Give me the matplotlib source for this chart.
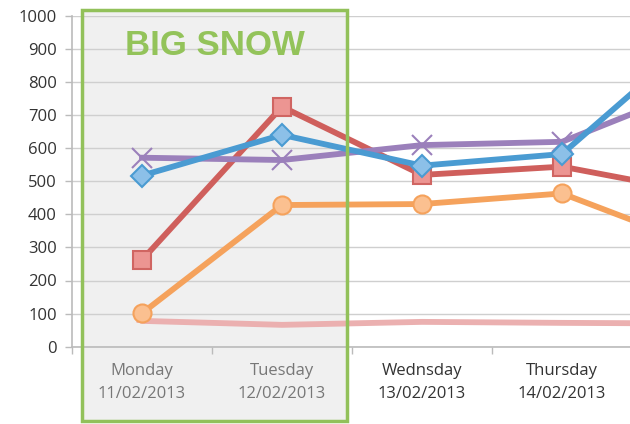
import matplotlib
matplotlib.use("Agg")
import matplotlib.pyplot as plt
from matplotlib.patches import Rectangle

# Four labelled days visible; a fifth (off-image) day continues the lines to the right edge
categories = ["Monday\n11/02/2013", "Tuesday\n12/02/2013", "Wednsday\n13/02/2013",
              "Thursday\n14/02/2013"]
blue_vals = [517, 640, 547, 582, 950]
red_vals = [262, 725, 519, 544, 464]
purple_vals = [571, 564, 609, 619, 788]
orange_vals = [101, 428, 431, 463, 302]
pink_vals = [78, 66, 75, 72, 70]
yticks = list(range(0, 1001, 100))
annotation = "BIG SNOW"

plt.rcParams['font.family'] = ['Open Sans', 'DejaVu Sans']

fig = plt.figure(figsize=(6.3, 4.24), dpi=100)
ax = fig.add_axes([72/630, 1-346.7/424, 1-72/630, (346.7-15.7)/424])
x = list(range(len(blue_vals)))

lw = 4.2
ax.plot(x, pink_vals, color="#ebb0b0", lw=lw, marker="_", ms=8, mew=2, zorder=3, solid_capstyle="round")
ax.plot(x, orange_vals, color="#f5a25c", lw=lw, marker="o", ms=13, mfc="#fbc090", mec="#f5a25c", mew=1.5, zorder=4)
ax.plot(x, red_vals, color="#cf5f5c", lw=lw, marker="s", ms=13, mfc="#ec9592", mec="#d06562", mew=1.5, zorder=4)
ax.plot(x, purple_vals, color="#9b80bb", lw=lw, marker="x", ms=15, mew=1.5, zorder=4)
ax.plot(x, blue_vals, color="#4a9bd2", lw=lw, marker="D", ms=11, mfc="#8cc0e8", mec="#4a9bd2", mew=1.5, zorder=5)

ax.set_yticks(yticks)
ax.set_yticklabels([str(v) for v in yticks], fontsize=12, color="#333333")
ax.set_xticks(range(len(categories)))
ax.set_xticklabels(categories, fontsize=12, linespacing=1.55)
for i, lab in enumerate(ax.get_xticklabels()):
    lab.set_color("#777777" if i < 2 else "#333333")
ax.tick_params(axis="x", length=0, pad=12)
ax.set_xticks([-0.5, 0.5, 1.5, 2.5], minor=True)
ax.tick_params(axis="x", which="minor", length=5, color="#bbbbbb", width=1)
ax.tick_params(axis="y", length=5, color="#bbbbbb", width=1, pad=6)
ax.set_xlim(-0.5, 3.486)
ax.set_ylim(0, 1000)

ax.set_axisbelow(True)
ax.yaxis.grid(True, color="#cfcfcf", lw=1.0)
for s in ["top", "right"]:
    ax.spines[s].set_visible(False)
ax.spines["left"].set_color("#bbbbbb")
ax.spines["bottom"].set_color("#bbbbbb")
ax.spines["left"].set_linewidth(1.2)
ax.spines["bottom"].set_linewidth(1.2)

x0, x1 = -0.43, 1.465
y0, y1 = -224, 1017
ax.add_patch(Rectangle((x0, y0), x1 - x0, y1 - y0, facecolor="#f0f0f0", edgecolor="none",
                       clip_on=False, zorder=0.2))
ax.add_patch(Rectangle((x0, y0), x1 - x0, y1 - y0, facecolor="none", edgecolor="#92c15a",
                       lw=2.5, clip_on=False, zorder=6))
ax.text((x0 + x1) / 2, 911, annotation, color="#93c35a", fontsize=25, fontweight="bold",
        ha="center", va="center", zorder=6, family=["Liberation Sans", "DejaVu Sans"])

fig.savefig("out.png", dpi=100)
